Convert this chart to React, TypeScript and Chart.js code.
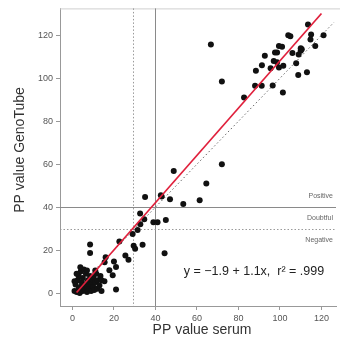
import React, { useEffect, useRef } from "react";
import { Chart, registerables } from "chart.js";

Chart.register(...registerables);

// Tick values
const xTicks = [0, 20, 40, 60, 80, 100, 120];
const yTicks = [0, 20, 40, 60, 80, 100, 120];

// Scatter data: PP value serum (x) vs PP value GenoTube (y)
const serum = [
  1, 2, 3, 1.5, 2.5, 3, 4, 4.5, 5, 5, 6, 6, 6.5, 7, 7, 7.5, 8, 8, 8.5, 9, 9, 9.5, 10, 10, 10.5, 11, 11.5, 12, 12, 13, 13.5, 14, 4, 2, 1, 3.5, 5.5, 7, 11, 14, 3.8, 15.4, 17.8, 19.4, 21,
  8.5, 8.5, 15.5, 16, 20, 21, 22.6, 25.5, 27, 29, 29.5, 30.2, 31.4, 32.7, 32.6, 34.6, 35, 33.8, 39, 41, 45, 44.4, 42.6, 43, 47, 48.8, 53.4, 61.3, 64.5, 72,
  66.7, 72, 82.7, 88, 91.2, 96.5, 101.4, 88.4, 91.3, 92.7, 95.5, 97, 98.6, 97.6, 98.6, 99.5, 101.6, 99.5, 101, 104, 105, 106, 107.8, 109, 110, 110.5, 110, 108.8, 113, 113.5, 115, 114.7, 117, 121,
];
const genoTube = [
  1, 0.5, 2, 4, 6, 8, 3, 5, 1, 7, 2, 4, 9, 0.5, 3, 6, 2, 5, 8, 1, 4, 6.5, 3, 7.5, 1.5, 5, 9, 2, 6, 3.5, 8, 1, 10, 9, 5.5, 0, 11, 10.5, 10.5, 6, 12, 5.5, 10.6, 8.3, 1.7,
  22.6, 18.7, 14.4, 16.7, 14.7, 12.2, 24, 17.5, 15.5, 27.5, 22, 20.6, 29.4, 32, 37, 34.4, 44.7, 22.5, 33, 33, 34, 18.6, 45.6, 45, 43.7, 56.8, 41.5, 43.2, 51, 60,
  115.7, 98.5, 91, 96.5, 96.5, 96.6, 93.4, 103.5, 106, 110.5, 104.6, 108, 107.4, 112, 112, 105, 105.8, 115, 114.7, 120, 119.5, 111.7, 107, 111, 112.8, 113.5, 114, 101.5, 102.8, 125, 120.4, 118, 115, 120,
];

// Regression y = -1.9 + 1.1x and identity line
const fitX = [2, 120];
const intercept = -1.9;
const slope = 1.1;
const identityX = [0, 126];

// Cut-offs
const serumCutoffs = [29, 40];
const genoCutoffs = [30, 40];
const zoneLabels = ["Positive", "Doubtful", "Negative"];
const zoneLabelY = [45, 35, 24.5];
const equationText = "y = \u22121.9 + 1.1x,  r\u00B2 = .999";
const xTitle = "PP value serum";
const yTitle = "PP value GenoTube";

const FONT = "'Liberation Sans', Arial, sans-serif";

export default function App() {
  const ref = useRef<HTMLCanvasElement | null>(null);
  useEffect(() => {
    if (!ref.current) return;
    const points = serum.map((x, i) => ({ x, y: genoTube[i] }));
    const fit = fitX.map((x) => ({ x, y: intercept + slope * x }));
    const ident = identityX.map((x) => ({ x, y: x }));

    const overlay = {
      id: "overlay",
      beforeDatasetsDraw(chart: any) {
        const { ctx, chartArea, scales } = chart;
        const xs = scales.x, ys = scales.y;
        ctx.save();
        ctx.strokeStyle = "#cfcfcf";
        ctx.lineWidth = 1;
        ctx.beginPath();
        ctx.moveTo(chartArea.left, chartArea.top + 0.5);
        ctx.lineTo(340, chartArea.top + 0.5);
        ctx.stroke();
        serumCutoffs.forEach((v, i) => {
          const px = Math.round(xs.getPixelForValue(v)) + 0.5;
          ctx.strokeStyle = i === 1 ? "#8a8a8a" : "#9a9a9a";
          ctx.setLineDash(i === 1 ? [] : [1.5, 2]);
          ctx.beginPath();
          ctx.moveTo(px, chartArea.top);
          ctx.lineTo(px, chartArea.bottom);
          ctx.stroke();
        });
        genoCutoffs.forEach((v, i) => {
          const py = Math.round(ys.getPixelForValue(v)) + 0.5;
          ctx.strokeStyle = i === 1 ? "#8a8a8a" : "#9a9a9a";
          ctx.setLineDash(i === 1 ? [] : [1.5, 2]);
          ctx.beginPath();
          ctx.moveTo(chartArea.left, py);
          ctx.lineTo(chartArea.right, py);
          ctx.stroke();
        });
        ctx.setLineDash([]);
        ctx.fillStyle = "#666";
        ctx.font = `7px ${FONT}`;
        ctx.textAlign = "right";
        ctx.textBaseline = "middle";
        zoneLabels.forEach((t, i) => {
          ctx.fillText(t, 333, ys.getPixelForValue(zoneLabelY[i]));
        });
        ctx.fillStyle = "#222";
        ctx.font = `12.5px ${FONT}`;
        ctx.textAlign = "center";
        ctx.fillText(equationText, 254, 272);
        ctx.restore();
      },
      afterDraw(chart: any) {
        const { ctx } = chart;
        ctx.save();
        ctx.fillStyle = "#333";
        ctx.font = `14px ${FONT}`;
        ctx.textAlign = "center";
        ctx.textBaseline = "middle";
        ctx.fillText(xTitle, 202, 330);
        ctx.translate(20, 150);
        ctx.rotate(-Math.PI / 2);
        ctx.fillText(yTitle, 0, 0);
        ctx.restore();
      },
    };

    const chart = new Chart(ref.current, {
      type: "scatter",
      data: {
        datasets: [
          {
            label: "identity",
            data: ident,
            showLine: true,
            borderColor: "#666",
            borderWidth: 1,
            borderDash: [1.5, 2.5],
            pointRadius: 0,
            order: 3,
          },
          {
            label: "samples",
            data: points,
            backgroundColor: "#111",
            borderColor: "#111",
            pointRadius: 3,
            borderWidth: 0,
            order: 2,
          },
          {
            label: "fit",
            data: fit,
            showLine: true,
            borderColor: "#e0203c",
            borderWidth: 1.7,
            pointRadius: 0,
            order: 1,
          },
        ],
      },
      options: {
        animation: false,
        responsive: false,
        events: [],
        layout: { padding: { top: 6, right: 2, left: 0, bottom: 0 } },
        plugins: { legend: { display: false }, tooltip: { enabled: false } },
        scales: {
          x: {
            type: "linear",
            min: -6,
            max: 127,
            afterFit: (s: any) => { s.height = 39; },
            afterBuildTicks: (s: any) => { s.ticks = xTicks.map((v) => ({ value: v })); },
            grid: { drawOnChartArea: false, color: "#999", tickLength: 4, tickColor: "#999" },
            border: { color: "#999" },
            ticks: { color: "#555", font: { size: 9, family: FONT }, padding: 3, maxRotation: 0 },
          },
          y: {
            type: "linear",
            min: -6,
            max: 132.5,
            afterFit: (s: any) => { s.width = 60; },
            afterBuildTicks: (s: any) => { s.ticks = yTicks.map((v) => ({ value: v })); },
            grid: { drawOnChartArea: false, color: "#999", tickLength: 4, tickColor: "#999" },
            border: { color: "#999" },
            ticks: { color: "#555", font: { size: 9, family: FONT }, padding: 3 },
          },
        },
      },
      plugins: [overlay],
    } as any);
    return () => chart.destroy();
  }, []);

  return (
    <div style={{ position: "fixed", left: 0, top: 0, width: 340, height: 345, background: "#fff" }}>
      <canvas ref={ref} width={340} height={345} style={{ display: "block", width: 340, height: 345 }} />
    </div>
  );
}
